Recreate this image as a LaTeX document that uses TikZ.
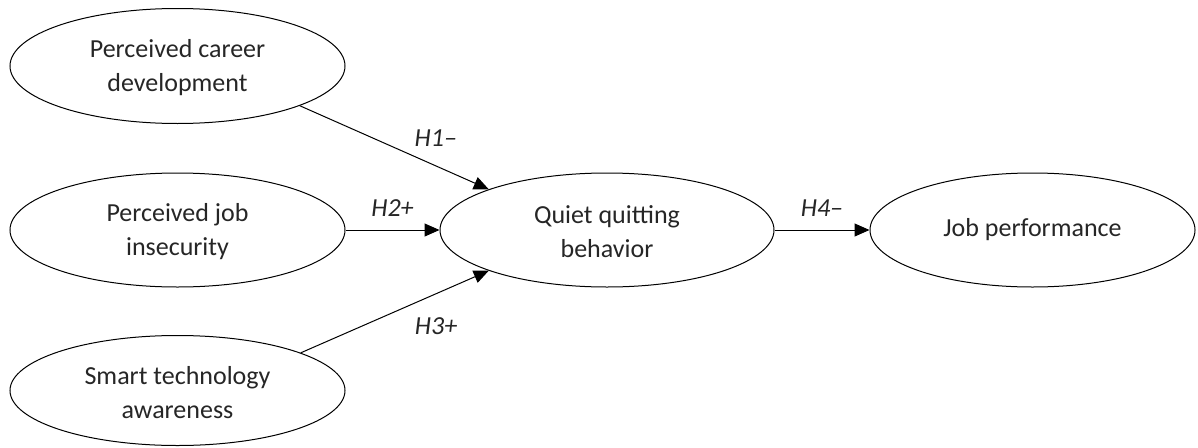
\documentclass[tikz,border=0pt]{standalone}
\usepackage{fontspec}
\setmainfont{Carlito}
\usetikzlibrary{shapes.geometric,arrows.meta}
\begin{document}
\begin{tikzpicture}[x=1pt,y=-1pt,
  construct/.style={draw=black,line width=1pt,ellipse,inner sep=0pt,fill=white},
  conn/.style={draw=black,line width=1pt,-{Triangle[length=15pt,width=13pt]}},
  hyp/.style={font=\fontsize{26}{28}\selectfont\itshape,text=black!85},
  lbl/.style={font=\fontsize{26}{34}\selectfont,text=black!85,align=center}]
\useasboundingbox (0,0) rectangle (1198,447);
\node[construct,minimum width=335pt,minimum height=115pt] (pcd) at (177.5,66) {};
\node[lbl,yshift=-2pt] at (pcd) {Perceived career\\development};
\node[construct,minimum width=335pt,minimum height=114pt] (pji) at (177.5,230) {};
\node[lbl,yshift=-2pt] at (pji) {Perceived job\\insecurity};
\node[construct,minimum width=335pt,minimum height=110pt] (sta) at (177.5,390.5) {};
\node[lbl,yshift=-2pt] at (sta) {Smart technology\\awareness};
\node[construct,minimum width=334pt,minimum height=114pt] (qqb) at (607,230) {};
\node[lbl,yshift=-2pt] at (qqb) {Quiet quitting\\behavior};
\node[construct,minimum width=325pt,minimum height=114pt] (jp) at (1032.5,230) {};
\node[lbl] at (jp) {Job performance};
\draw[conn] (pcd.-18.2) -- (qqb.161.4) node[hyp,pos=0.72,yshift=28pt] {H1–};
\draw[conn] (pji) -- (qqb) node[hyp,midway,yshift=22pt] {H2+};
\draw[conn] (sta.17.6) -- (qqb.-161.4) node[hyp,pos=0.72,yshift=-32pt] {H3+};
\draw[conn] (qqb) -- (jp) node[hyp,midway,yshift=22pt] {H4–};
\end{tikzpicture}
\end{document}
